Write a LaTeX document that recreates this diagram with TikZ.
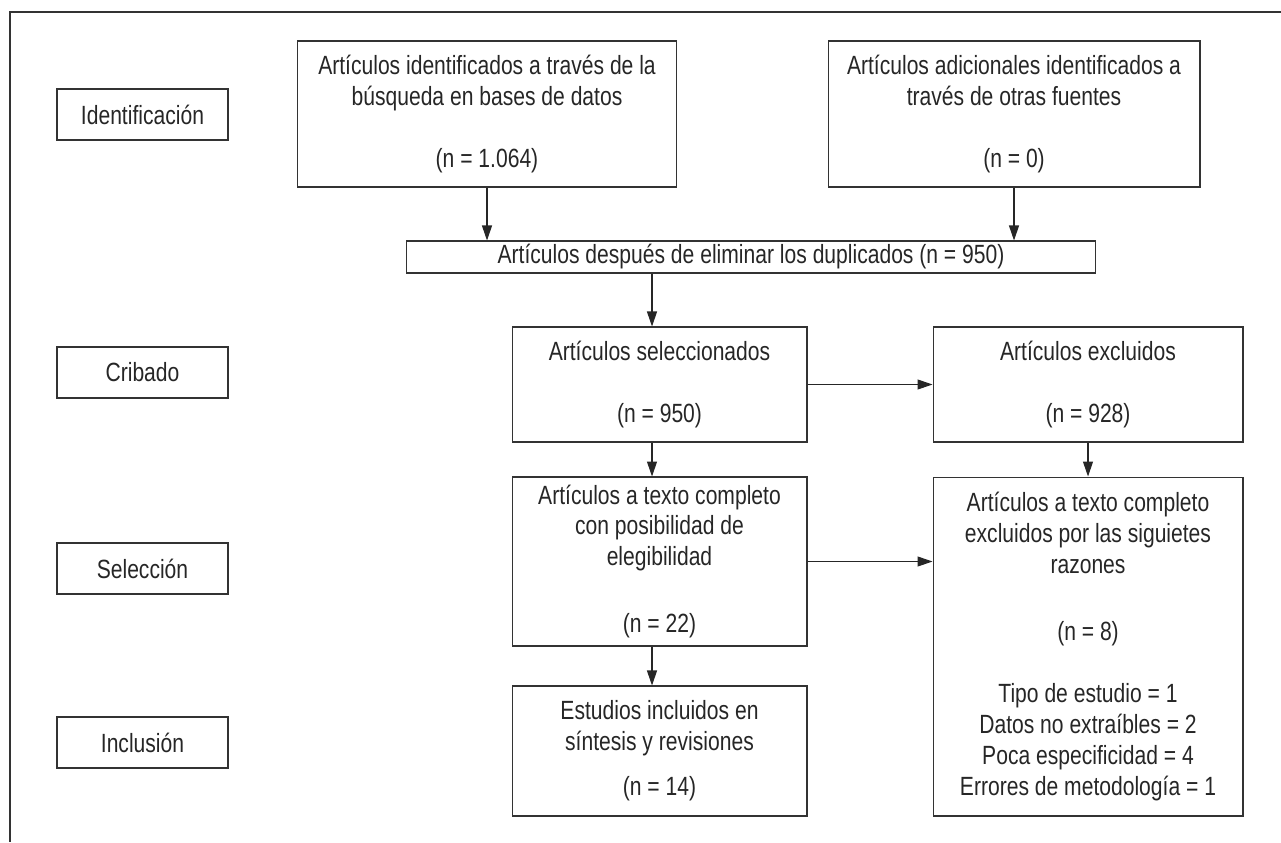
\documentclass[tikz,border=0pt]{standalone}
\usepackage{fontspec}
\setmainfont{Liberation Sans}[FakeStretch=0.8]
\usetikzlibrary{arrows.meta}

\begin{document}
\begin{tikzpicture}[x=0.02cm,y=-0.02cm,
        every node/.style={font=\fontsize{15}{17.6}\selectfont,text=black!85},
        caja/.style={draw=black!80,line width=0.6pt,align=center,inner sep=0pt},
        fase/.style={caja,minimum width=3.42cm,minimum height=1.02cm},
        flecha/.style={-{Triangle[length=0.3cm,width=0.2cm]},draw=black!85,line width=0.6pt}]
                \useasboundingbox (0,0) rectangle (1281,842);
                \draw[line width=1.4pt,black!80] (1281,12)--(10,12)--(10,842);
                % fases
                \node[fase] (ident) at (142.5,114.5) {Identificación};
                \node[fase] (crib) at (142.5,372.5) {Cribado};
                \node[fase] (selec) at (142.5,568.5) {Selección};
                \node[fase] (incl) at (142.5,742.5) {Inclusión};
                % diagrama
                \node[caja,minimum width=7.6cm,minimum height=2.92cm] (bases) at (487,114)
                    {Artículos identificados a través de la\\búsqueda en bases de datos\\~\\(n = 1.064)};
                \node[caja,minimum width=7.44cm,minimum height=2.92cm] (otras) at (1014,114)
                    {Artículos adicionales identificados a\\través de otras fuentes\\~\\(n = 0)};
                \node[caja,minimum width=13.8cm,minimum height=0.64cm] (dup) at (751,257)
                    {Artículos después de eliminar los duplicados (n = 950)};
                \node[caja,minimum width=5.9cm,minimum height=2.3cm] (sel) at (659.5,384.5)
                    {Artículos seleccionados\\~\\(n = 950)};
                \node[caja,minimum width=6.2cm,minimum height=2.3cm] (exc) at (1088,384.5)
                    {Artículos excluidos\\~\\(n = 928)};
                \node[caja,minimum width=5.9cm,minimum height=3.38cm] (txt) at (659.5,561.5)
                    {Artículos a texto completo\\con posibilidad de\\elegibilidad\\~\\[3pt](n = 22)};
                \node[caja,minimum width=6.2cm,minimum height=6.78cm] (raz) at (1088,646.5)
                    {Artículos a texto completo\\excluidos por las siguietes\\razones\\~\\[3pt](n = 8)\\~\\
                     Tipo de estudio = 1\\Datos no extraíbles = 2\\Poca especificidad = 4\\Errores de metodología = 1};
                \node[caja,minimum width=5.9cm,minimum height=2.6cm] (est) at (659.5,751)
                    {Estudios incluidos en\\síntesis y revisiones\\[8pt](n = 14)};
                % flechas
                \coordinate (eje) at (652,0);
                \draw[flecha] (bases.south) -- (bases.south |- dup.north);
                \draw[flecha] (otras.south) -- (otras.south |- dup.north);
                \draw[flecha] (eje |- dup.south) -- (eje |- sel.north);
                \draw[flecha] (sel.east) -- (exc.west);
                \draw[flecha] (eje |- sel.south) -- (eje |- txt.north);
                \draw[flecha] (exc.south) -- (raz.north);
                \draw[flecha] (txt.east) -- (raz.west |- txt.east);
                \draw[flecha] (eje |- txt.south) -- (eje |- est.north);
            \end{tikzpicture}
\end{document}
